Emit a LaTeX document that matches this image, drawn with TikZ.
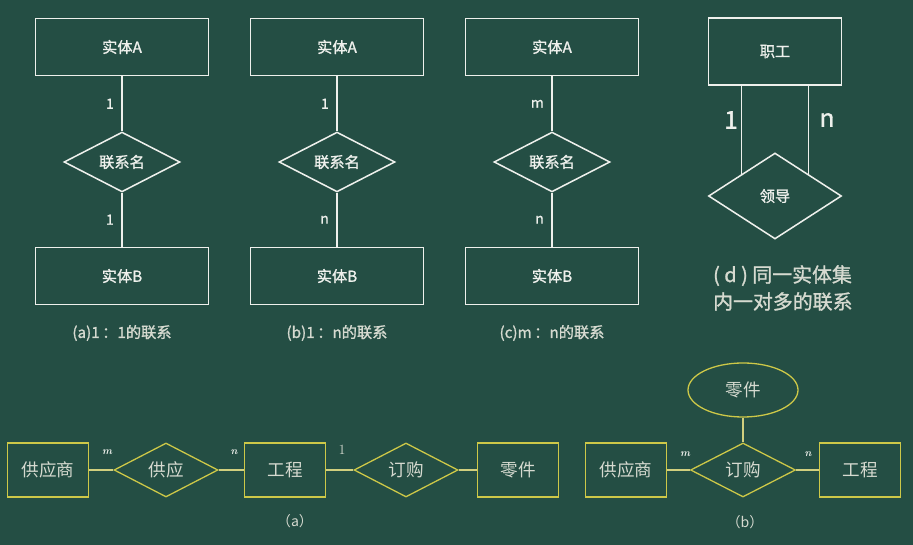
\documentclass[tikz,border=0pt]{standalone}
\usepackage{fontspec}
\newfontfamily\cjk{Noto Sans CJK SC}
\newfontfamily\cjkb{Noto Sans CJK SC}[FakeBold=1.2]
\usetikzlibrary{shapes.geometric}
\definecolor{board}{RGB}{36,78,68}
\definecolor{chalk}{RGB}{238,240,236}
\definecolor{yel}{RGB}{205,200,72}
\definecolor{pale}{RGB}{214,218,208}

\begin{document}
\begin{tikzpicture}[x=0.03cm,y=-0.03cm,
	ent/.style={draw=chalk,line width=1.3pt,minimum width=5.19cm,minimum height=1.71cm,text=chalk,font=\cjkb\fontsize{13}{15}\selectfont},
	rel/.style={diamond,draw=chalk,line width=1.3pt,minimum width=3.48cm,minimum height=1.71cm,inner sep=0pt,text=chalk,font=\cjkb\fontsize{13}{15}\selectfont},
	lnk/.style={draw=chalk,line width=1.3pt},
	card/.style={text=chalk,font=\cjkb\fontsize{12}{14}\selectfont,left=3pt},
	captxt/.style={text=pale,font=\cjkb\fontsize{13}{15}\selectfont},
	ybox/.style={draw=yel,line width=1.3pt,minimum width=2.43cm,minimum height=1.62cm,text=pale,font=\cjk\fontsize{15}{18}\selectfont},
	ydia/.style={diamond,draw=yel,line width=1.1pt,minimum width=3.12cm,minimum height=1.62cm,inner sep=0pt,text=pale,font=\cjk\fontsize{15}{18}\selectfont},
	ylnk/.style={draw=yel!60!pale,line width=1.1pt},
	tag/.style={text=chalk,font=\bfseries\itshape\fontsize{9}{9}\selectfont}]
	\useasboundingbox (0,0) rectangle (913,545);
	\fill[board] (0,0) rectangle (913,545);
	% (a) 1:1
	\node[ent] (ea) at (122,47) {实体A};
	\node[rel] (ra) at (122,162) {联系名};
	\node[ent] (eb) at (122,276) {实体B};
	\draw[lnk] (ea) -- node[card]{1} (ra);
	\draw[lnk] (ra) -- node[card]{1} (eb);
	\node[captxt] (capa) at (122,333) {(a)1\,：1的联系};
	% (b) 1:n
	\node[ent] (fa) at (337,47) {实体A};
	\node[rel] (rb) at (337,162) {联系名};
	\node[ent] (fb) at (337,276) {实体B};
	\draw[lnk] (fa) -- node[card]{1} (rb);
	\draw[lnk] (rb) -- node[card]{n} (fb);
	\node[captxt] (capb) at (337,333) {(b)1\,：n的联系};
	% (c) m:n
	\node[ent] (ga) at (552,47) {实体A};
	\node[rel] (rc) at (552,162) {联系名};
	\node[ent] (gb) at (552,276) {实体B};
	\draw[lnk] (ga) -- node[card]{m} (rc);
	\draw[lnk] (rc) -- node[card]{n} (gb);
	\node[captxt] (capc) at (552,333) {(c)m\,：n的联系};
	% (d) same entity set
	\node[ent,minimum width=3.99cm,minimum height=2.01cm] (zg) at (775,51.5) {职工};
	\node[rel,minimum width=3.99cm,minimum height=2.58cm] (ld) at (775,196) {领导};
	\draw[lnk] (zg.south -| ld.north west) -- (ld.north west);
	\draw[lnk] (zg.south -| ld.north east) -- (ld.north east);
	\node[text=chalk,font=\cjkb\fontsize{21}{21}\selectfont] (one) at (731,120) {1};
	\node[text=chalk,font=\cjkb\fontsize{21}{21}\selectfont] (many) at (827,120) {n};
	\node[text=pale,font=\cjkb\fontsize{17}{23}\selectfont,align=left,anchor=west] (capd) at (709,288) {( d ) 同一实体集\\内一对多的联系};
	% bottom (a)
	\node[ybox] (gys) at (48,470) {供应商};
	\node[ydia] (gy) at (166,470) {供应};
	\node[ybox] (gc) at (285,470) {工程};
	\node[ydia] (dg) at (406,470) {订购};
	\node[ybox] (lj) at (518,470) {零件};
	\draw[ylnk] (gys) -- (gy);
	\draw[ylnk] (gy) -- (gc);
	\draw[ylnk] (gc) -- (dg);
	\draw[ylnk] (dg) -- (lj);
	\node[tag] (t1) at (107,452) {m};
	\node[tag] (t2) at (234,452) {n};
	\node[text=pale,font=\fontsize{12}{12}\selectfont] (t3) at (342,450) {1};
	\node[text=pale,font=\cjk\fontsize{12}{12}\selectfont] (capba) at (295,521) {（a）};
	% bottom (b)
	\node[ellipse,draw=yel,line width=1.1pt,minimum width=3.3cm,minimum height=1.62cm,text=pale,font=\cjk\fontsize{15}{18}\selectfont] (lj2) at (743,390) {零件};
	\node[ybox] (gys2) at (626,470) {供应商};
	\node[ydia,minimum width=3.15cm] (dg2) at (743,470) {订购};
	\node[ybox] (gc2) at (860,470) {工程};
	\draw[ylnk] (lj2) -- (dg2);
	\draw[ylnk] (gys2) -- (dg2);
	\draw[ylnk] (dg2) -- (gc2);
	\node[tag] (t4) at (685,454) {m};
	\node[tag] (t5) at (808,454) {n};
	\node[text=pale,font=\cjk\fontsize{12}{12}\selectfont] (capbb) at (745,522) {（b）};
\end{tikzpicture}
\end{document}
